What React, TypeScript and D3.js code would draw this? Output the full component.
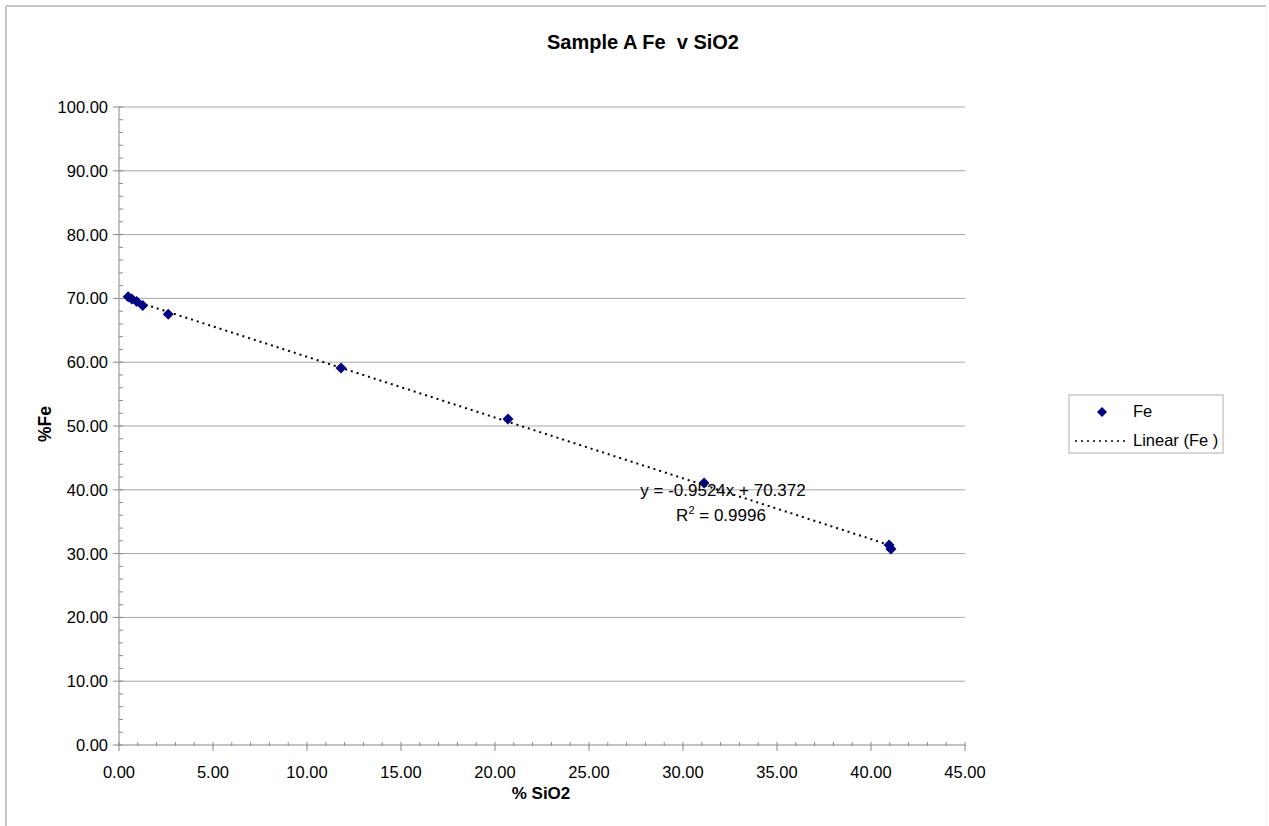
import React from "react";
import * as d3 from "d3";

const sio2 = [0.49, 0.68, 0.94, 1.26, 2.62, 11.81, 20.69, 31.12, 40.96, 41.06];
const fe = [70.27, 69.9, 69.5, 68.9, 67.5, 59.09, 51.1, 41.07, 31.35, 30.72];
const xTicks = [0, 5, 10, 15, 20, 25, 30, 35, 40, 45];
const yTicks = [0, 10, 20, 30, 40, 50, 60, 70, 80, 90, 100];
const slope = -0.9524;
const intercept = 70.372;
const rSquared = "0.9996";
const title = "Sample A Fe  v SiO2";
const xLabel = "% SiO2";
const yLabel = "%Fe";
const seriesName = "Fe";
const trendName = "Linear (Fe )";

const W = 1269;
const H = 826;
const FONT = "'Liberation Sans', Arial, sans-serif";

export default function App() {
  const x = d3.scaleLinear().domain([0, 45]).range([119, 965]);
  const y = d3.scaleLinear().domain([0, 100]).range([745, 107]);
  const xMinor = d3.range(0, 45.001, 1);
  const yMinor = d3.range(0, 100.001, 2);
  const xMin = d3.min(sio2) as number;
  const xMax = d3.max(sio2) as number;
  const line = d3
    .line<number>()
    .x((d) => x(d))
    .y((d) => y(slope * d + intercept));
  const diamond = (cx: number, cy: number, r: number) =>
    `M${cx},${cy - r}L${cx + r},${cy}L${cx},${cy + r}L${cx - r},${cy}Z`;

  return (
    <svg
      width={W}
      height={H}
      style={{ position: "absolute", left: 0, top: 0, fontFamily: FONT }}
    >
      <rect x={0} y={0} width={W} height={H} fill="#fff" />
      {/* outer frame */}
      <line x1={6} y1={6} x2={1266} y2={6} stroke="#c4c4c4" strokeWidth={2} />
      <line x1={6} y1={6} x2={6} y2={826} stroke="#c4c4c4" strokeWidth={2} />
      <line x1={1266} y1={6} x2={1266} y2={826} stroke="#f0f0f0" strokeWidth={1} />

      <text
        x={643}
        y={49}
        textAnchor="middle"
        fontSize={20}
        fontWeight="bold"
        fill="#000"
        style={{ whiteSpace: "pre" }}
      >
        {title}
      </text>

      {/* gridlines */}
      {yTicks.filter((t) => t > 0).map((t) => (
        <line key={"g" + t} x1={x(0)} x2={x(45)} y1={y(t)} y2={y(t)} stroke="#a6a6a6" strokeWidth={1} />
      ))}

      {/* y minor ticks */}
      {yMinor.map((t) => (
        <line key={"ym" + t} x1={x(0)} x2={x(0) + 4} y1={y(t)} y2={y(t)} stroke="#888" strokeWidth={1} />
      ))}
      {/* y major ticks */}
      {yTicks.map((t) => (
        <line key={"yM" + t} x1={x(0) - 6} x2={x(0)} y1={y(t)} y2={y(t)} stroke="#888" strokeWidth={1} />
      ))}
      {/* x minor ticks */}
      {xMinor.map((t) => (
        <line key={"xm" + t} x1={x(t)} x2={x(t)} y1={y(0) - 3} y2={y(0) + 1} stroke="#888" strokeWidth={1} />
      ))}
      {xTicks.map((t) => (
        <line key={"xM" + t} x1={x(t)} x2={x(t)} y1={y(0)} y2={y(0) + 6} stroke="#888" strokeWidth={1} />
      ))}
      {/* axes */}
      <line x1={x(0)} x2={x(0)} y1={y(0)} y2={y(100)} stroke="#888" strokeWidth={1} />
      <line x1={x(0)} x2={x(45)} y1={y(0)} y2={y(0)} stroke="#888" strokeWidth={1} />

      {yTicks.map((t) => (
        <text key={"yl" + t} x={108} y={y(t) + 6} textAnchor="end" fontSize={16.5} fill="#000">
          {t.toFixed(2)}
        </text>
      ))}
      {xTicks.map((t) => (
        <text key={"xl" + t} x={x(t)} y={778} textAnchor="middle" fontSize={16.5} fill="#000">
          {t.toFixed(2)}
        </text>
      ))}

      <text x={541} y={799} textAnchor="middle" fontSize={17} fontWeight="bold" fill="#000">
        {xLabel}
      </text>
      <text
        transform={`translate(51,424) rotate(-90)`}
        textAnchor="middle"
        fontSize={17.5}
        fontWeight="bold"
        fill="#000"
      >
        {yLabel}
      </text>

      {/* trendline */}
      <path
        d={line([xMin, xMax]) || ""}
        fill="none"
        stroke="#000"
        strokeWidth={2}
        strokeDasharray="2,4"
      />

      {/* points */}
      {sio2.map((v, i) => (
        <path key={"p" + i} d={diamond(x(v), y(fe[i]), 5.5)} fill="#000080" />
      ))}

      {/* equation */}
      <text x={723} y={496} textAnchor="middle" fontSize={17} fill="#000">
        {`y = ${slope}x + ${intercept}`}
      </text>
      <text x={721} y={521} textAnchor="middle" fontSize={17} fill="#000">
        R<tspan dy={-7} fontSize={11}>2</tspan>
        <tspan dy={7}>{` = ${rSquared}`}</tspan>
      </text>

      {/* legend */}
      <rect x={1069} y={395} width={154} height={58} fill="#fff" stroke="#b0b0b0" strokeWidth={1} />
      <path d={diamond(1102, 412, 5)} fill="#000080" />
      <text x={1133} y={417} fontSize={16.5} fill="#000">
        {seriesName}
      </text>
      <line x1={1075} x2={1127} y1={441} y2={441} stroke="#000" strokeWidth={1.5} strokeDasharray="2,4" />
      <text x={1133} y={446} fontSize={16.5} fill="#000">
        {trendName}
      </text>
    </svg>
  );
}
